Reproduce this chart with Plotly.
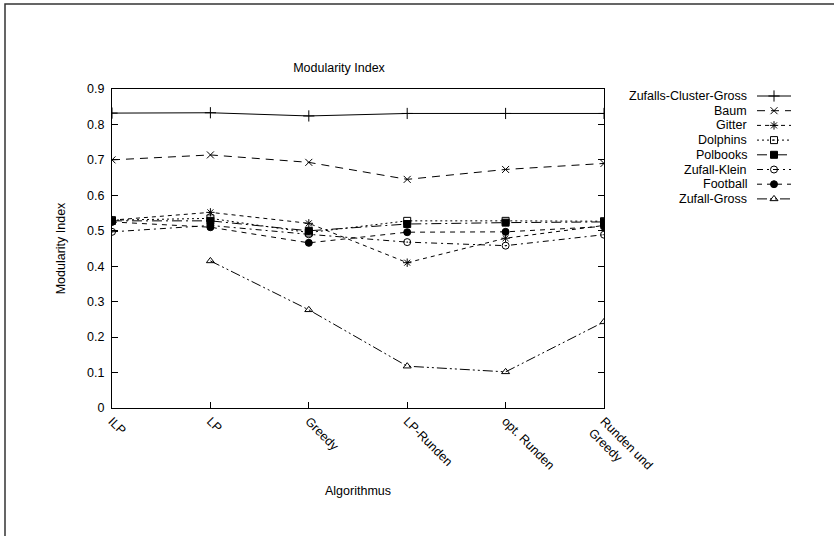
import plotly.graph_objects as go

categories = ["ILP", "LP", "Greedy", "LP-Runden", "opt. Runden", "Runden und<br>Greedy"]

zufalls_cluster_gross = [0.832, 0.833, 0.824, 0.831, 0.831, 0.831]
baum = [0.700, 0.714, 0.693, 0.645, 0.673, 0.690]
gitter = [0.530, 0.552, 0.521, 0.410, 0.479, 0.515]
dolphins = [0.530, 0.535, 0.495, 0.528, 0.528, 0.527]
polbooks = [0.528, 0.528, 0.500, 0.519, 0.523, 0.525]
zufall_klein = [0.497, 0.515, 0.490, 0.468, 0.458, 0.489]
football = [0.525, 0.510, 0.466, 0.496, 0.497, 0.512]
zufall_gross = [None, 0.415, 0.277, 0.118, 0.102, 0.243]

series = [
    ("Zufalls-Cluster-Gross", zufalls_cluster_gross, "solid", "cross-thin-open", 8),
    ("Baum", baum, "8px,6px", "x-thin-open", 7),
    ("Gitter", gitter, "4px,4px", "asterisk-open", 7),
    ("Dolphins", dolphins, "2px,3px", "square-open-dot", 7),
    ("Polbooks", polbooks, "10px,4px,2px,4px", "square", 7),
    ("Zufall-Klein", zufall_klein, "6px,4px,2px,4px", "circle-open-dot", 7),
    ("Football", football, "5px,5px", "circle", 7),
    ("Zufall-Gross", zufall_gross, "10px,3px,2px,3px,2px,3px", "triangle-up-open", 7),
]

# figure geometry (pixels)
W, H = 834, 536
ML, MR, MT, MB = 112, 20, 89, 128
PW = W - ML - MR          # paper width in px
PH = H - MT - MB          # paper height in px
PLOT_RIGHT = 604          # right edge of the main plot frame
KEY_X0, KEY_X1 = 757, 791  # legend sample line
KEY_TEXT_RIGHT = 749
KEY_ROW0, KEY_DY = 96, 14.7
KEY_BOTTOM = KEY_ROW0 + KEY_DY * 7.5
FS = 12.5


def px_x(p):
    return (p - ML) / PW


def px_y(p):
    return 1 - (p - MT) / PH


fig = go.Figure()
for name, vals, dash, sym, size in series:
    fig.add_trace(go.Scatter(
        x=categories, y=vals, name=name, mode="lines+markers",
        line=dict(color="black", width=1, dash=dash),
        marker=dict(symbol=sym, size=size, color="black",
                    line=dict(color="black", width=1)),
        connectgaps=False, showlegend=False,
    ))

# gnuplot-style key: text on the left, sample on the right
sample_x = [0, 0.5, 1]
annotations = []
for k, (name, vals, dash, sym, size) in enumerate(series):
    fig.add_trace(go.Scatter(
        x=sample_x, y=[k] * len(sample_x), mode="lines+markers",
        xaxis="x2", yaxis="y2", showlegend=False, hoverinfo="skip",
        line=dict(color="black", width=1, dash=dash),
        marker=dict(symbol=sym, size=size, color="black", opacity=[0, 1, 0],
                    line=dict(color="black", width=1)),
    ))
    annotations.append(dict(
        text=name, xref="paper", yref="y2",
        x=px_x(KEY_TEXT_RIGHT), y=k,
        xanchor="right", yanchor="middle", showarrow=False,
        font=dict(size=FS),
    ))

y2_span = (KEY_BOTTOM - MT) / KEY_DY
y2_top = -(KEY_ROW0 - MT) / KEY_DY

font = "Liberation Sans, Arial, sans-serif"
fig.update_layout(
    width=W, height=H,
    margin=dict(l=ML, r=MR, t=MT, b=MB, autoexpand=False),
    paper_bgcolor="white", plot_bgcolor="white",
    font=dict(family=font, size=FS, color="black"),
    title=dict(text="Modularity Index", x=339 / W,
               xanchor="center", y=1 - 68 / H, yanchor="middle",
               font=dict(size=FS)),
    showlegend=False,
    annotations=annotations,
    xaxis=dict(
        domain=[0, px_x(PLOT_RIGHT)],
        type="category", categoryorder="array", categoryarray=categories,
        range=[0, 5], showgrid=False, zeroline=False,
        showline=True, linecolor="black", linewidth=1, mirror=True,
        ticks="inside", ticklen=6, tickcolor="black", tickangle=45,
        automargin=False, tickfont=dict(size=FS),
        title=dict(text="Algorithmus", standoff=3, font=dict(size=FS)),
    ),
    yaxis=dict(
        range=[0, 0.9], dtick=0.1, tick0=0, showgrid=False, zeroline=False,
        showline=True, linecolor="black", linewidth=1, mirror="ticks",
        ticks="inside", ticklen=6, tickcolor="black", ticklabelstandoff=4,
        automargin=False, tickfont=dict(size=FS),
        title=dict(text="Modularity Index", standoff=18, font=dict(size=FS)),
    ),
    xaxis2=dict(domain=[px_x(KEY_X0), px_x(KEY_X1)], range=[0, 1],
                visible=False, anchor="y2"),
    yaxis2=dict(domain=[px_y(KEY_BOTTOM), 1],
                range=[y2_top + y2_span, y2_top],
                visible=False, anchor="x2"),
    shapes=[
        dict(type="rect", xref="paper", yref="paper",
             x0=px_x(5), x1=1.5, y0=-0.6, y1=px_y(4),
             line=dict(color="#333333", width=1.5), layer="below"),
    ],
)

fig.write_html("out.html", config={"displayModeBar": False},
               post_script="document.body.style.margin='0';")
